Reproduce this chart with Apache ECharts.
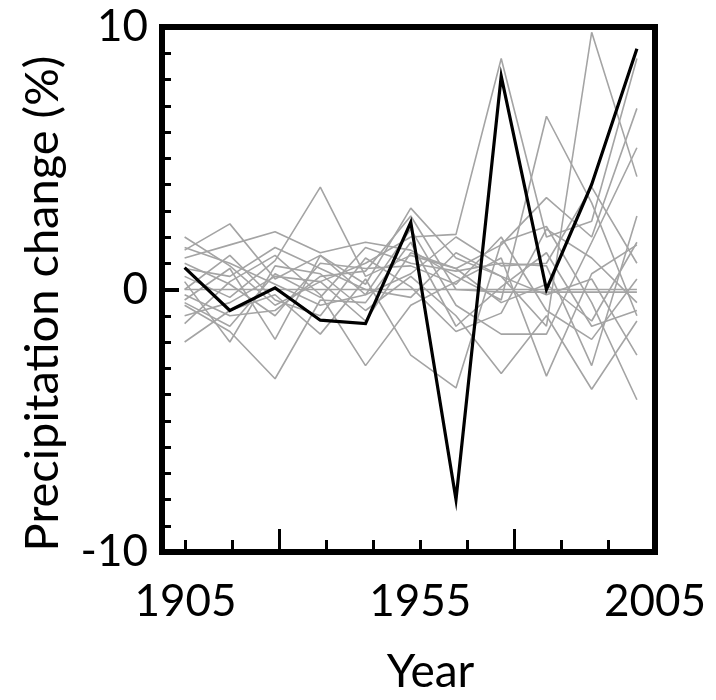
<!DOCTYPE html>
<html>
<head>
<meta charset="utf-8">
<title>Precipitation change</title>
<script src="https://cdn.jsdelivr.net/npm/echarts@6/dist/echarts.min.js"></script>
<style>
    html, body { margin: 0; padding: 0; background: #fff; }
    #chart { width: 716px; height: 700px; }
</style>
</head>
<body>
<div id="chart"></div>
<script>
// 年份
var years = [1905, 1915, 1925, 1935, 1945, 1955, 1965, 1975, 1985, 1995, 2005];
// 主序列(黑线)
var mainSeries = [0.83, -0.8, 0.06, -1.17, -1.3, 2.56, -8.0, 8.13, 0.0, 4.0, 9.17];
// 其他序列(灰线)
var g0 = [0, 0, 0, 0, 0, 0, 0, 0, 0, 0, 0];
var g1 = [2.0, 0.9, -0.6, 0.3, 1.0, 2.0, 2.1, 8.8, 2.0, 2.6, 8.8];
var g2 = [1.5, 2.5, 0.4, 1.3, 0.2, 3.1, 1.2, 0.5, -1.4, 9.8, 4.3];
var g3 = [1.2, 1.7, 2.2, 1.4, 1.8, 1.5, 0.5, -0.4, 6.6, 3.3, -1.0];
var g4 = [0.5, -0.3, 1.1, 3.9, 0.5, 1.3, 0.8, 1.7, 3.5, 2.0, 6.9];
var g5 = [-0.4, 0.8, -1.9, 1.3, -0.2, 2.3, -0.6, -1.7, -1.7, 1.8, 5.4];
var g6 = [-0.5, -1.4, 0.6, -0.3, 1.6, 1.0, 0.7, 1.0, 0.9, -2.9, 2.8];
var g7 = [-0.6, -1.6, -3.4, -0.4, -0.5, 1.8, -1.4, 0.1, 1.4, -1.4, -0.8];
var g8 = [-1.3, 0.3, 1.3, -0.2, -2.9, -0.6, 0.3, 1.2, -3.3, 0.6, 1.7];
var g9 = [-2.0, -0.8, -0.2, -1.7, 0.4, -2.5, -3.75, 1.8, 2.4, -0.5, -4.2];
var g10 = [0.3, -2.0, 0.9, 0.6, -0.8, 0.5, -1.0, -3.2, -1.0, -3.8, -1.2];
var g11 = [1.0, 0.2, -1.0, 1.0, 0.8, 0.9, 0.2, 2.0, -0.8, -1.9, 0.4];
var g12 = [0.0, 1.3, -0.4, -1.0, 1.2, 0.1, -1.6, -0.9, 2.3, 1.2, -0.5];
var g13 = [-1.0, -0.5, 0.5, 0.3, -1.2, 1.4, 0.8, -0.5, 0.2, -1.2, 1.8];
var g14 = [0.8, 0.5, 1.6, 0.8, 0.0, -0.3, 1.4, 0.5, -0.2, 0.4, -2.5];
var g15 = [-0.2, -1.0, -0.8, 0.5, 0.7, 2.8, 0.0, -0.1, -0.1, -0.1, -0.1];
var g16 = [1.6, 1.0, 0.2, -0.6, -0.2, 0.6, 2.0, 0.9, 1.0, 3.9, 1.0];
var grayList = [g0, g1, g2, g3, g4, g5, g6, g7, g8, g9, g10, g11, g12, g13, g14, g15, g16];
// 刻度
var xMinorTicks = [1905, 1915, 1935, 1945, 1955, 1965, 1985, 1995];
var xMajorTicks = [1925, 1975];
var xLabels = [1905, 1955, 2005];
var yLabels = [-10, 0, 10];

var FONT = 'Lato';

function pairs(arr) {
    return arr.map(function (v, i) { return [years[i], v]; });
}

var series = [];
grayList.forEach(function (g) {
    series.push({
        type: 'line',
        xAxisIndex: 1,
        data: pairs(g),
        symbol: 'none',
        silent: true,
        lineStyle: { color: '#a4a4a4', width: 1.6 }
    });
});
series.push({
    type: 'line',
    xAxisIndex: 1,
    data: pairs(mainSeries),
    symbol: 'none',
    z: 5,
    lineStyle: { color: '#000', width: 3.2, join: 'miter' }
});

var chart = echarts.init(document.getElementById('chart'));
var option = {
    animation: false,
    grid: {
        left: 162, right: 61, top: 27, bottom: 148,
        show: true,
        borderColor: '#000',
        borderWidth: 6
    },
    xAxis: [
        {
            // 显示用的x轴
            type: 'value', min: 1900, max: 2005,
            name: 'Year', nameLocation: 'middle', nameGap: 97,
            nameTextStyle: { fontFamily: FONT, fontSize: 46, color: '#000', padding: [0, 0, 0, 44] },
            axisLine: { show: true, onZero: false, lineStyle: { color: '#000', width: 5 } },
            axisTick: { show: true, inside: true, length: 12, lineStyle: { color: '#000', width: 3 }, customValues: xMinorTicks },
            axisLabel: {
                fontFamily: FONT, fontSize: 44, color: '#000', margin: 28, customValues: xLabels,
                formatter: function (v) { return String(v); }
            },
            splitLine: { show: false }
        },
        {
            // 数据用的x轴
            type: 'value', min: 1900, max: 2009, show: false,
            axisLine: { onZero: false }
        },
        {
            // 长刻度
            type: 'value', min: 1900, max: 2005, position: 'bottom',
            axisLine: { show: false, onZero: false },
            axisTick: { show: true, inside: true, length: 23, lineStyle: { color: '#000', width: 3 }, customValues: xMajorTicks },
            axisLabel: { show: false },
            splitLine: { show: false }
        }
    ],
    yAxis: [
        {
            type: 'value', min: -10, max: 10, interval: 1,
            name: 'Precipitation change (%)', nameLocation: 'middle', nameGap: 96,
            nameTextStyle: { fontFamily: FONT, fontSize: 47, color: '#000', padding: [0, 28, 0, 0] },
            axisLine: { show: true, onZero: false, lineStyle: { color: '#000', width: 5 } },
            axisTick: { show: true, inside: true, length: 9, lineStyle: { color: '#000', width: 3 } },
            axisLabel: { fontFamily: FONT, fontSize: 44, color: '#000', margin: 14, customValues: yLabels },
            splitLine: { show: false }
        },
        {
            type: 'value', min: -10, max: 10, position: 'left',
            axisLine: { show: false, onZero: false },
            axisTick: { show: true, inside: true, length: 17, lineStyle: { color: '#000', width: 4 }, customValues: [0] },
            axisLabel: { show: false },
            splitLine: { show: false }
        }
    ],
    series: series
};
chart.setOption(option);
</script>
</body>
</html>
